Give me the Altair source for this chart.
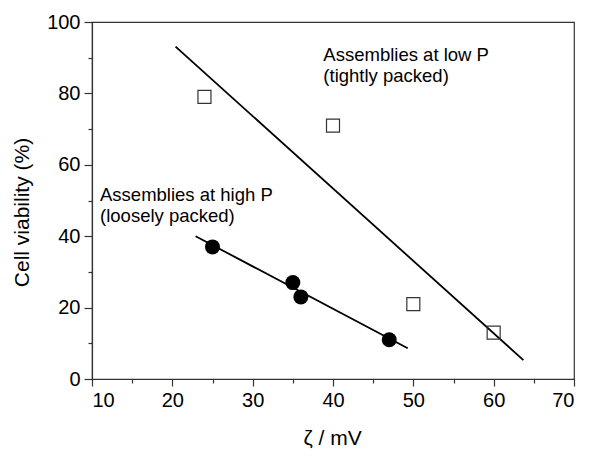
import altair as alt
import pandas as pd

# Data
sq_x = [24, 40, 50, 60]          # assemblies at low P (open squares)
sq_y = [79, 71, 21, 13]
ci_x = [25, 35, 36, 47]          # assemblies at high P (filled circles)
ci_y = [37, 27, 23, 11]

low_fit_x = [20.4, 63.7]
low_fit_y = [93.1, 5.3]
high_fit_x = [22.9, 49.3]
high_fit_y = [40.0, 8.6]

ann_text = ["Assemblies at low P", "(tightly packed)",
            "Assemblies at high P", "(loosely packed)"]
ann_x = [38.8, 38.8, 11.0, 11.0]
ann_y = [89.2, 83.3, 49.9, 44.0]

FONT = "Liberation Sans"

sq = pd.DataFrame({"x": sq_x, "y": sq_y})
ci = pd.DataFrame({"x": ci_x, "y": ci_y})
lf = pd.DataFrame({"x": low_fit_x, "y": low_fit_y})
hf = pd.DataFrame({"x": high_fit_x, "y": high_fit_y})
ann = pd.DataFrame({"x": ann_x, "y": ann_y, "t": ann_text})

xscale = alt.Scale(domain=[10, 70], nice=False, zero=False)
yscale = alt.Scale(domain=[0, 100], nice=False, zero=False)

xaxis = alt.Axis(
    values=list(range(10, 71, 5)),
    labelExpr="datum.value % 10 === 0 ? datum.label : ''",
    tickSize={"condition": {"test": "datum.value % 10 === 0", "value": 7}, "value": 4},
    grid=False, title="ζ / mV", titleX=240, titleY=65, titleBaseline="alphabetic",
    labelPadding=4,
)
yaxis = alt.Axis(
    values=list(range(0, 101, 10)),
    labelExpr="datum.value % 20 === 0 ? datum.label : ''",
    tickSize={"condition": {"test": "datum.value % 20 === 0", "value": 8}, "value": 4},
    grid=False, title="Cell viability (%)", titleX=-70, titleY=190,
    titleBaseline="middle", titleAngle=-90, labelPadding=4,
)

X = alt.X("x:Q", scale=xscale, axis=xaxis)
Y = alt.Y("y:Q", scale=yscale, axis=yaxis)

lines_low = alt.Chart(lf).mark_line(color="black", strokeWidth=1.8).encode(x=X, y=Y)
lines_high = alt.Chart(hf).mark_line(color="black", strokeWidth=1.8).encode(x=X, y=Y)
squares = alt.Chart(sq).mark_point(shape="square", size=169, filled=False,
                                   color="#333333", strokeWidth=1.2, opacity=1).encode(x=X, y=Y)
circles = alt.Chart(ci).mark_point(shape="circle", size=225, filled=True,
                                   color="black", opacity=1).encode(x=X, y=Y)
texts = alt.Chart(ann).mark_text(align="left", baseline="alphabetic", font=FONT,
                                 fontSize=18.5, color="black").encode(x=X, y=Y, text="t:N")

chart = alt.layer(lines_low, lines_high, squares, circles, texts).properties(
    width=482, height=357,
    background="white",
    autosize=alt.AutoSizeParams(type="none"),
    padding={"left": 84, "top": 14, "right": 18, "bottom": 70},
).configure_view(
    stroke="#333333", strokeWidth=1.2
).configure_axis(
    domainColor="#333333", domainWidth=1.2, tickColor="#333333", tickWidth=1.2,
    labelFont=FONT, labelFontSize=20, labelColor="black",
    titleFont=FONT, titleFontSize=21, titleFontWeight="normal", titleColor="black",
)

chart.save("out.html", embed_options={"renderer": "svg", "actions": False})
